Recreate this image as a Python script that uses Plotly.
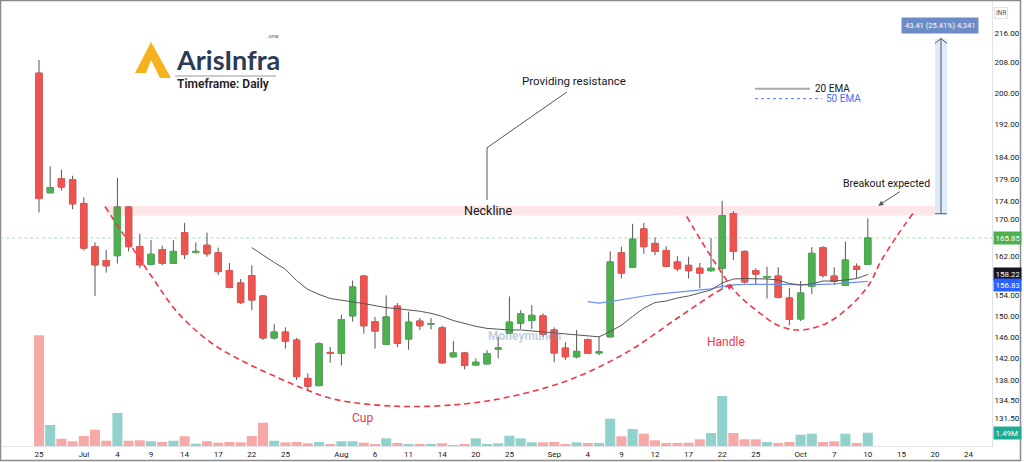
import math
import plotly.graph_objects as go

# ---------------- data ----------------
tick_index = [0, 4, 7, 10, 13, 16, 19, 22, 27, 30, 33, 36, 39, 42, 46, 49, 52, 55, 58,
              61, 64, 68, 71, 74, 77, 80, 83]
tick_labels = ["25", "Jul", "4", "9", "14", "17", "22", "25", "Aug", "6", "11", "14", "20",
               "25", "Sep", "4", "9", "12", "17", "22", "25", "Oct", "7", "10", "15", "20", "24"]

opens = [205.1, 175.8, 179.0, 178.8, 173.4, 164.0, 161.1, 162.1, 172.6, 164.0,
         160.3, 163.4, 160.5, 167.0, 162.8, 164.3, 162.7, 159.0, 156.5, 158.0,
         153.9, 145.8, 146.9, 145.4, 138.4, 137.1, 143.1, 142.9, 150.0, 157.9,
         148.9, 144.6, 151.9, 145.6, 149.0, 148.4, 147.7, 142.3, 143.0, 140.8,
         141.0, 143.7, 146.7, 148.6, 149.1, 150.0, 147.3, 143.9, 142.3, 145.5,
         143.0, 146.0, 162.7, 159.7, 167.8, 164.7, 163.2, 160.8, 160.1, 159.5,
         159.0, 159.5, 171.1, 163.0, 159.0, 157.6, 157.9, 153.5, 149.4, 155.8,
         163.8, 157.9, 156.0, 159.9, 160.3]
highs = [208.6, 181.9, 181.1, 179.7, 174.8, 164.9, 163.3, 179.2, 172.8, 166.7,
         165.4, 164.2, 165.4, 169.1, 164.9, 167.0, 163.8, 160.6, 157.3, 160.1,
         154.1, 148.4, 147.8, 145.8, 139.3, 145.0, 144.1, 150.2, 157.0, 158.1,
         149.8, 154.0, 152.5, 150.8, 149.6, 149.6, 148.1, 145.2, 143.2, 142.0,
         143.5, 146.0, 153.8, 151.1, 152.1, 150.5, 147.8, 145.0, 147.3, 145.7,
         146.0, 163.0, 164.0, 168.9, 169.1, 166.0, 164.1, 162.0, 161.9, 160.6,
         165.8, 174.0, 171.7, 163.2, 159.5, 159.8, 159.7, 155.5, 156.9, 163.9,
         164.1, 159.7, 165.1, 160.5, 170.1]
lows = [171.4, 175.7, 176.3, 172.1, 163.2, 153.9, 158.6, 160.5, 163.0, 159.5,
        160.1, 160.1, 160.4, 161.4, 162.5, 161.9, 158.1, 155.4, 152.3, 151.1,
        145.4, 145.5, 143.8, 138.1, 136.2, 137.0, 141.2, 140.7, 148.9, 146.6,
        143.8, 144.5, 144.1, 143.6, 147.3, 147.4, 141.0, 142.2, 140.0, 140.7,
        140.9, 142.0, 146.6, 147.5, 147.5, 146.0, 141.3, 141.7, 142.0, 142.8,
        142.6, 145.9, 157.4, 159.6, 162.5, 162.2, 159.7, 158.9, 157.4, 155.4,
        158.8, 155.1, 161.2, 156.4, 156.1, 153.4, 153.4, 148.2, 149.0, 154.3,
        157.6, 156.1, 155.9, 157.5, 160.2]
closes = [174.5, 177.0, 177.1, 173.3, 163.7, 160.2, 160.0, 172.6, 164.0, 160.2,
          162.4, 160.5, 163.0, 162.4, 163.0, 162.5, 158.8, 155.6, 152.6, 153.1,
          145.8, 146.9, 145.2, 138.7, 137.0, 144.7, 142.9, 149.3, 155.7, 148.1,
          147.1, 149.8, 144.8, 148.8, 148.1, 148.5, 141.2, 143.0, 140.7, 141.3,
          142.9, 143.9, 148.8, 150.4, 150.1, 146.5, 143.0, 142.3, 143.3, 142.9,
          143.2, 160.8, 158.5, 165.6, 164.0, 163.0, 159.9, 159.4, 159.0, 158.5,
          159.5, 170.7, 163.0, 156.7, 158.3, 157.8, 153.6, 149.3, 154.5, 162.6,
          158.0, 156.8, 161.2, 159.3, 165.85]
volume_m = [12.4, 2.35, 0.82, 0.53, 1.12, 1.83, 0.59, 3.70, 0.59, 0.64,
            0.53, 0.45, 0.59, 1.09, 0.26, 0.53, 0.37, 0.45, 0.41, 1.12,
            2.61, 0.59, 0.41, 0.45, 0.30, 0.45, 0.22, 0.53, 0.53, 0.37,
            0.22, 0.86, 0.34, 0.22, 0.19, 0.15, 0.30, 0.08, 0.22, 0.86,
            0.22, 0.30, 1.15, 0.86, 0.41, 0.41, 0.45, 0.22, 0.41, 0.34,
            0.34, 3.06, 1.09, 1.90, 1.38, 0.64, 0.34, 0.34, 0.37, 0.75,
            1.46, 5.60, 1.46, 0.75, 0.75, 0.45, 0.34, 0.45, 1.27, 1.38,
            0.45, 0.53, 1.38, 0.34, 1.49]

ema20_start = 19
ema20 = [163.8, 162.2, 160.7, 159.3, 157.0, 155.2, 154.2, 153.4, 153.1, 152.8,
         152.4, 152.0, 151.6, 151.4, 151.2, 150.9, 150.5, 149.9, 149.1, 148.5,
         148.0, 147.6, 147.4, 147.3, 147.3, 147.1, 146.9, 146.8, 146.6, 146.4,
         146.2, 146.0, 147.0, 148.2, 149.9, 151.5, 152.6, 152.9, 153.5, 153.9,
         154.5, 155.1, 156.5, 157.3, 157.4, 157.4, 157.3, 157.1, 156.4, 156.1,
         156.3, 156.9, 156.9, 157.1, 157.4, 158.22]
ema50_start = 49
ema50 = [152.8, 152.5, 152.8, 153.2, 153.5, 153.9, 154.2, 154.4, 154.7, 154.9,
         155.1, 155.3, 155.8, 156.1, 156.2, 156.2, 156.3, 156.3, 156.2, 156.1,
         156.1, 156.2, 156.3, 156.5, 156.6, 156.83]

price_ticks = [131.5, 134.5, 138, 142, 146, 150, 154, 162, 170, 174, 179, 184,
               192, 200, 208, 216]

# pattern drawings (x = trading-day index, y = price)
neck_lo, neck_hi = 170.7, 172.8
neck_from, neck_to = 6.0, 80.0
cup_x = [5.89, 7.38, 10.06, 12.44, 15.42, 17.8, 20.47, 23.46, 26.43, 32.05,
         37.93, 42.83, 47.72, 52.63, 57.23, 61.4, 62.0]
cup_y = [172.7, 167.2, 157.8, 150.5, 144.8, 141.9, 139.3, 136.7, 134.7, 133.5,
         133.9, 135.5, 138.4, 143.3, 149.9, 155.8, 156.1]
handle_x = [57.83, 60.2, 62.29, 64.38, 66.16, 67.95, 70.33, 72.71, 74.2, 75.09,
            76.58, 78.06]
handle_y = [170.5, 161.2, 154.5, 150.5, 148.0, 147.3, 148.6, 152.5, 156.5, 160.6,
            166.2, 171.3]
callout_x = [47.14, 40.0, 40.0]
callout_y = [200.2, 186.3, 174.2]
measure_lo, measure_hi = 171.1, 214.5
measure_from, measure_to = 80.0, 81.07

# ---------------- style ----------------
UP, DOWN = "#4caf50", "#ef5350"
VOL_UP, VOL_DOWN = "#92d2cc", "#f7a9a7"
WICK = "#555555"
TXT = "#131722"
FONT = "Roboto, Liberation Sans, sans-serif"

W, H = 1024, 462
ML, MR, MT, MB = 2, 32, 1, 16
PW, PH = W - ML - MR, H - MT - MB


def pxx(x):
    return (x - ML) / PW


def pxy(y):
    return (MT + PH - y) / PH


def ly(v):
    return math.log10(v)


idx = list(range(len(opens)))
body_hi = [max(o, c) for o, c in zip(opens, closes)]
body_lo = [min(o, c) for o, c in zip(opens, closes)]
vol_colors = [VOL_UP if c >= o else VOL_DOWN for o, c in zip(opens, closes)]

fig = go.Figure()

# volume
fig.add_trace(go.Bar(x=idx, y=volume_m, yaxis="y2", marker_color=vol_colors,
                     marker_line_width=0, width=0.9, showlegend=False, hoverinfo="skip"))

# neckline band
fig.add_trace(go.Scatter(x=[neck_from, neck_to, neck_to, neck_from, neck_from],
                         y=[neck_lo, neck_lo, neck_hi, neck_hi, neck_lo],
                         fill="toself", fillcolor="rgba(242,54,69,0.12)",
                         line=dict(width=0), mode="lines", showlegend=False, hoverinfo="skip"))

# measure tool
fig.add_trace(go.Scatter(x=[measure_from, measure_to, measure_to, measure_from, measure_from],
                         y=[measure_lo, measure_lo, measure_hi, measure_hi, measure_lo],
                         fill="toself", fillcolor="#deebfa", line=dict(width=0),
                         mode="lines", showlegend=False, hoverinfo="skip"))
mid = (measure_from + measure_to) / 2
fig.add_trace(go.Scatter(x=[mid, mid, None, measure_from, measure_to, None,
                            measure_from, mid, measure_to],
                         y=[measure_lo, measure_hi, None, measure_lo, measure_lo, None,
                            measure_hi * 0.9935, measure_hi, measure_hi * 0.9935],
                         mode="lines", line=dict(color=WICK, width=1),
                         showlegend=False, hoverinfo="skip"))

# last price line
fig.add_trace(go.Scatter(x=[-4, 86], y=[closes[-1], closes[-1]], mode="lines",
                         line=dict(color="rgba(76,175,80,0.45)", width=1, dash="dot"),
                         showlegend=False, hoverinfo="skip"))

# cup & handle curves
fig.add_trace(go.Scatter(x=cup_x, y=cup_y, mode="lines",
                         line=dict(color="#f23645", width=1.6, dash="6px,4px", shape="spline"),
                         showlegend=False, hoverinfo="skip"))
fig.add_trace(go.Scatter(x=handle_x, y=handle_y, mode="lines",
                         line=dict(color="#f23645", width=1.6, dash="6px,4px", shape="spline"),
                         showlegend=False, hoverinfo="skip"))

# callout line
fig.add_trace(go.Scatter(x=callout_x, y=callout_y, mode="lines",
                         line=dict(color=WICK, width=1), showlegend=False, hoverinfo="skip"))

# EMAs
fig.add_trace(go.Scatter(x=idx[ema50_start:], y=ema50, mode="lines",
                         line=dict(color="#6f8ff8", width=1.2), showlegend=False, hoverinfo="skip"))
fig.add_trace(go.Scatter(x=idx[ema20_start:], y=ema20, mode="lines",
                         line=dict(color="#555555", width=1), showlegend=False, hoverinfo="skip"))

# candles: wicks then bodies
fig.add_trace(go.Candlestick(x=idx, open=opens, high=highs, low=lows, close=closes,
                             increasing=dict(line=dict(color=WICK, width=1), fillcolor=WICK),
                             decreasing=dict(line=dict(color=WICK, width=1), fillcolor=WICK),
                             showlegend=False, hoverinfo="skip"))
fig.add_trace(go.Candlestick(x=idx, open=opens, high=body_hi, low=body_lo, close=closes,
                             increasing=dict(line=dict(color=UP, width=1), fillcolor=UP),
                             decreasing=dict(line=dict(color=DOWN, width=1), fillcolor=DOWN),
                             showlegend=False, hoverinfo="skip"))

ann = []


def text(x, y, s, size=12, color=TXT, xanchor="center", **kw):
    d = dict(x=x, y=y, text=s, showarrow=False, xanchor=xanchor, yanchor="middle",
             font=dict(family=FONT, size=size, color=color))
    d.update(kw)
    ann.append(d)


text(47.77, ly(203.1), "Providing resistance", size=11.5)
text(40.09, ly(171.8), "Neckline", size=12.5)
text(28.84, ly(131.5), "Cup", size=12, color="#f23645")
text(61.34, ly(145.1), "Handle", size=12, color="#f23645")
text(75.63, ly(177.8), "Breakout expected", size=10.5)
text(69.1, ly(201.1), "20 EMA", size=10, xanchor="left")
text(70.09, ly(198.5), "50 EMA", size=10, color="#3d6dfc", xanchor="left")
text(43.4, ly(146.2), "<b>Moneymunch</b>", size=12, color="rgba(120,145,185,0.45)")

# measure label
ann.append(dict(x=80.45, y=ly(218.0), text="43.41 (25.41%) 4,341", showarrow=False,
                bgcolor="#6b8cc6", borderpad=3, font=dict(family=FONT, size=7.5, color="white")))

# breakout arrow
ann.append(dict(x=74.94, y=ly(172.9), ax=23, ay=-15, text="", showarrow=True,
                arrowhead=2, arrowsize=1, arrowwidth=1, arrowcolor=WICK))
# cup end arrowhead
ann.append(dict(x=62.0, y=ly(156.1), ax=-7, ay=3, text="", showarrow=True,
                arrowhead=2, arrowsize=1, arrowwidth=1.2, arrowcolor="#f23645"))

# price-axis tags
for val, col, yref, shift, label in [
        (closes[-1], UP, "y", 0, f"{closes[-1]:.2f}"),
        (ema20[-1], TXT, "y", 1, f"{ema20[-1]:.2f}"),
        (ema50[-1], "#2962ff", "y", -3.5, f"{ema50[-1]:.2f}"),
        (volume_m[-1], "#22ab94", "y2", 0, f"{volume_m[-1]:.2f}M")]:
    yv = ly(val) if yref == "y" else val
    ann.append(dict(x=1, xref="paper", y=yv, yref=yref, xanchor="left", yanchor="middle",
                    xshift=0.5, yshift=shift, text=label, showarrow=False, bgcolor=col,
                    borderpad=1.5, width=24, align="left",
                    font=dict(family=FONT, size=8, color="white")))

# INR header
ann.append(dict(x=pxx(1008), y=pxy(7), xref="paper", yref="paper", text="INR",
                showarrow=False, font=dict(family=FONT, size=6.5, color="#555"),
                bgcolor="white", bordercolor="#e0e3eb", borderwidth=1, borderpad=1))

# logo texts
ann.append(dict(x=pxx(174), y=pxy(59), xref="paper", yref="paper", xanchor="left",
                yanchor="middle", text="<b>ArisInfra</b>", showarrow=False,
                font=dict(family="Lato, Inter, sans-serif", size=27, color="#2b3a55")))
ann.append(dict(x=pxx(281), y=pxy(41), xref="paper", yref="paper", xanchor="right",
                yanchor="bottom", text=".one", showarrow=False,
                font=dict(family=FONT, size=6, color="#666")))
ann.append(dict(x=pxx(175), y=pxy(84), xref="paper", yref="paper", xanchor="left",
                yanchor="middle", text="Timeframe: Daily", showarrow=False,
                font=dict(family=FONT, size=12, color="#222", weight=600)))

logo_pts = [(135, 73), (151, 42), (171, 78), (160, 78), (151, 60), (146, 73)]
logo_path = "M " + " L ".join(f"{pxx(a):.5f},{pxy(b):.5f}" for a, b in logo_pts) + " Z"

shapes = [
    dict(type="path", path=logo_path, xref="paper", yref="paper",
         fillcolor="#f5b21f", line=dict(width=0)),
    dict(type="line", xref="paper", yref="paper", x0=pxx(175), x1=pxx(276),
         y0=pxy(76), y1=pxy(76), line=dict(color="#999", width=1)),
    dict(type="line", xref="paper", yref="paper", x0=pxx(755), x1=pxx(810),
         y0=pxy(88.7), y1=pxy(88.7), line=dict(color="#aaaaaa", width=2)),
    dict(type="line", xref="paper", yref="paper", x0=pxx(755), x1=pxx(822),
         y0=pxy(98.7), y1=pxy(98.7), line=dict(color="#6f8ff8", width=1.2, dash="dot")),
    dict(type="rect", xref="paper", yref="paper", x0=pxx(0.5), x1=pxx(1020.5),
         y0=pxy(460.5), y1=pxy(0.5), line=dict(color="#8a8a8a", width=1.5)),
]

fig.update_layout(
    width=W, height=H,
    margin=dict(l=ML, r=MR, t=MT, b=MB, pad=0),
    paper_bgcolor="white", plot_bgcolor="white",
    showlegend=False, boxgap=0.2, boxmode="overlay",
    font=dict(family=FONT, color=TXT),
    xaxis=dict(range=[(2 - 39) / 11.2, (992 - 39) / 11.2], tickvals=tick_index,
               ticktext=tick_labels, showgrid=False, zeroline=False, showline=True,
               linecolor="#e0e3eb", ticks="", tickfont=dict(size=8, color=TXT),
               rangeslider=dict(visible=False), fixedrange=True),
    yaxis=dict(type="log", range=[2.103251, 2.352368], side="right",
               tickvals=price_ticks, ticktext=[f"{v:.2f}" for v in price_ticks],
               showgrid=False, zeroline=False, showline=True, linecolor="#e0e3eb",
               ticks="", tickfont=dict(size=8, color=TXT)),
    yaxis2=dict(overlaying="y", range=[0, PH * 0.112], visible=False),
    annotations=ann,
    shapes=shapes,
)

fig.write_html("out.html")
